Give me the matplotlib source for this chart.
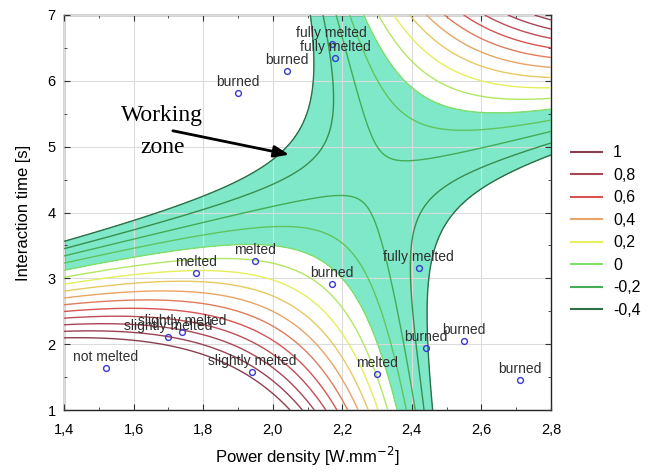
import numpy as np
import matplotlib
matplotlib.use("Agg")
import matplotlib.pyplot as plt
from matplotlib.colors import LinearSegmentedColormap
from matplotlib.lines import Line2D
from matplotlib.ticker import MultipleLocator, FuncFormatter

# experimental runs: power density, interaction time, observed state
power = [1.52, 1.70, 1.74, 1.94, 1.78, 1.95, 2.30, 2.17, 1.90, 2.04,
         2.44, 2.55, 2.71, 2.17, 2.18, 2.42]
itime = [1.64, 2.11, 2.18, 1.58, 3.08, 3.26, 1.55, 2.91, 5.82, 6.15,
         1.94, 2.05, 1.46, 6.56, 6.35, 3.16]
state = ["not melted", "slightly melted", "slightly melted", "slightly melted",
         "melted", "melted", "melted", "burned", "burned", "burned",
         "burned", "burned", "burned", "fully melted", "fully melted",
         "fully melted"]

# response levels and where each level crosses the frame
levels = np.round(np.arange(-0.4, 1.01, 0.1), 1)
left_t = [3.55, 3.45, 3.35, 3.23, 3.10, 3.00, 2.90, 2.80, 2.70, 2.60,
          2.50, 2.41, 2.31, 2.21, 2.11]          # at p = 1.4
bottom_p = [2.461, 2.435, 2.409, 2.383, 2.36, 2.33, 2.30, 2.27, 2.24,
            2.21, 2.18, 2.149, 2.119, 2.088, 2.058]  # at t = 1
top_p = [2.101, 2.136, 2.179, 2.228, 2.280, 2.323, 2.366, 2.409, 2.452,
         2.501, 2.547, 2.590, 2.633, 2.676]       # at t = 7
right_t = [4.84, 5.03, 5.22, 5.39, 5.56, 5.74, 5.91, 6.07, 6.24, 6.39,
           6.53, 6.67, 6.79, 6.92]                # at p = 2.8

# level crossings inside the plot
inner_p = [1.60, 1.85, 1.99, 2.04, 2.08, 2.10, 2.10,
           1.85, 1.99, 2.11, 2.15, 2.165,
           1.85, 1.99, 2.14, 2.21, 2.23, 2.28,
           2.65, 2.53, 2.45, 2.44, 2.44,
           2.21, 2.27, 2.36, 2.46, 2.60,
           1.79, 2.08, 2.26, 2.345,
           2.42, 2.46, 2.37, 2.31, 2.605]
inner_t = [3.89, 4.37, 4.84, 5.10, 5.41, 5.71, 6.21,
           4.11, 4.52, 4.80, 5.21, 5.71,
           3.92, 4.08, 4.22, 4.20, 4.08, 3.69,
           4.54, 4.14, 3.73, 3.23, 2.50,
           6.21, 5.21, 4.75, 4.80, 5.06,
           3.28, 3.35, 3.00, 2.00,
           5.74, 5.71, 6.06, 6.73, 5.53]
inner_z = [-0.4] * 7 + [-0.3] * 5 + [-0.2] * 6 + [-0.4] * 5 + [-0.2] * 5 + \
          [0.0] * 4 + [0.0] * 5

legend_vals = [1, 0.8, 0.6, 0.4, 0.2, 0, -0.2, -0.4]
legend_cols = ["#8a3f4f", "#a94656", "#d65454", "#e8a565", "#e6ef5c",
               "#7fdf6a", "#45ad55", "#2e6f48"]
fill_col = "#7ee8c9"


def design(p, t, deg=3):
    x = (np.asarray(p) - 2.1) / 0.7
    y = (np.asarray(t) - 4.0) / 3.0
    cols = []
    for i in range(deg + 1):
        for j in range(deg + 1 - i):
            cols.append(x ** i * y ** j)
    return np.stack(cols, axis=-1)


# gather all readings and fit a cubic response surface
sp, st, sz = [], [], []
for k, lv in enumerate(levels):
    sp.append(1.4); st.append(left_t[k]); sz.append(lv)
    sp.append(bottom_p[k]); st.append(1.0); sz.append(lv)
    if k < len(top_p):
        sp.append(top_p[k]); st.append(7.0); sz.append(lv)
        sp.append(2.8); st.append(right_t[k]); sz.append(lv)
sp += inner_p; st += inner_t; sz += inner_z
coef, *_ = np.linalg.lstsq(design(sp, st), np.array(sz), rcond=None)

P, T = np.meshgrid(np.linspace(1.4, 2.8, 400), np.linspace(1, 7, 400))
Z = design(P, T) @ coef

cmap = LinearSegmentedColormap.from_list("resp", legend_cols[::-1])
line_cols = [cmap((lv + 0.4) / 1.4) for lv in levels]

plt.rcParams['font.family'] = ['Liberation Sans', 'DejaVu Sans']
fig = plt.figure(figsize=(6.56, 4.75), dpi=100)
ax = fig.add_axes([64 / 656, 65 / 475, 487 / 656, 395 / 475])

ax.contourf(P, T, Z, levels=[-0.4, 0.0], colors=[fill_col], zorder=1)
ax.grid(True, color="#dcdcdc", lw=0.8, zorder=2)
ax.set_axisbelow(False)
ax.contour(P, T, Z, levels=levels, colors=line_cols, linewidths=1.0,
           zorder=3)

ax.plot(power, itime, 'o', ms=4.2, mfc='none', mec='#3a3ad2', mew=1.0,
        zorder=5)
for p, t, s in zip(power, itime, state):
    ax.annotate(s, (p, t), xytext=(0, 3.0), textcoords='offset points',
                ha='center', va='bottom', fontsize=10, color='#303030',
                zorder=6)

# working zone callout
ax.text(1.682, 5.48, "Working", family=['Liberation Serif'], fontsize=17,
        ha='center', va='center', zorder=6)
ax.text(1.682, 4.98, "zone", family=['Liberation Serif'], fontsize=17,
        ha='center', va='center', zorder=6)
ax.annotate("", xy=(2.055, 4.87), xytext=(1.705, 5.25),
            arrowprops=dict(arrowstyle='-|>,head_length=0.9,head_width=0.35',
                            color='black', lw=2.0), zorder=6)

ax.set_xlim(1.4, 2.8)
ax.set_ylim(1, 7)
ax.xaxis.set_major_locator(MultipleLocator(0.2))
ax.xaxis.set_minor_locator(MultipleLocator(0.1))
ax.yaxis.set_major_locator(MultipleLocator(1))
ax.yaxis.set_minor_locator(MultipleLocator(0.5))
ax.xaxis.set_major_formatter(FuncFormatter(lambda v, _: f"{v:.1f}".replace('.', ',')))
ax.tick_params(which='both', direction='in', top=True, right=True,
               labelsize=10.5, color='#333333')
ax.tick_params(axis='x', which='major', pad=9)
ax.tick_params(axis='y', which='major', pad=6)
ax.tick_params(which='major', length=4)
ax.tick_params(which='minor', length=2.5)
for sp_ in ax.spines.values():
    sp_.set_color('#222222')
    sp_.set_linewidth(1.0)

ax.set_xlabel("Power density [W.mm$^{-2}$]", fontsize=12, labelpad=6)
ax.set_ylabel("Interaction time [s]", fontsize=12, labelpad=12)

handles = [Line2D([], [], color=c, lw=1.5) for c in legend_cols]
labels = [f"{v:g}".replace('.', ',') for v in legend_vals]
fig.legend(handles, labels, loc='upper left', bbox_to_anchor=(565 / 656, 1 - 139 / 475),
           frameon=False, fontsize=11.5, handlelength=1.9, handletextpad=0.7,
           labelspacing=0.47, borderaxespad=0)

fig.savefig("out.png", dpi=100)
